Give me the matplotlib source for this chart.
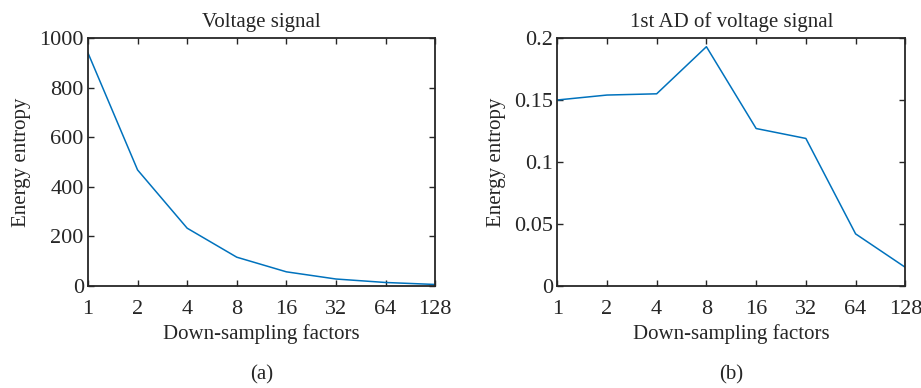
import matplotlib.pyplot as plt

plt.rcParams['font.family'] = ['Liberation Serif', 'DejaVu Serif']
plt.rcParams['font.size'] = 15

factors = ['1', '2', '4', '8', '16', '32', '64', '128']
voltage = [940, 468, 233, 116, 57, 28, 14, 6]
first_ad = [0.150, 0.154, 0.155, 0.193, 0.127, 0.119, 0.042, 0.015]

fig = plt.figure(figsize=(9.21, 3.88), dpi=100)
ax1 = fig.add_axes([0.0955, 0.263, 0.377, 0.639])
ax2 = fig.add_axes([0.605, 0.263, 0.378, 0.639])

x = list(range(len(factors)))

for ax, y, title, cap in [(ax1, voltage, 'Voltage signal', '(a)'),
                          (ax2, first_ad, '1st AD of voltage signal', '(b)')]:
    ax.plot(x, y, color='#0072BD', lw=1.1)
    ax.set_xlim(0, len(factors) - 1)
    ax.set_xticks(x)
    ax.set_xticklabels(factors)
    ax.set_title(title, fontsize=15, pad=8, color='#262626')
    ax.set_xlabel('Down-sampling factors', color='#262626', labelpad=4)
    ax.set_ylabel('Energy entropy', color='#262626', labelpad=6)
    ax.tick_params(direction='in', top=True, right=True, length=4,
                   width=1, colors='#262626', labelsize=16)
    ax.tick_params(axis='x', pad=10)
    ax.tick_params(axis='y', pad=3)
    for s in ax.spines.values():
        s.set_linewidth(1.3)
        s.set_color('#262626')
    pos = ax.get_position()
    fig.text(pos.x0 + pos.width / 2, 0.034, cap, ha='center', va='center',
             fontsize=15, color='#262626')

ax1.set_ylim(0, 1000)
ax1.set_yticks([0, 200, 400, 600, 800, 1000])
ax2.set_ylim(0, 0.2)
ax2.set_yticks([0, 0.05, 0.1, 0.15, 0.2])
ax2.set_yticklabels(['0', '0.05', '0.1', '0.15', '0.2'])

fig.savefig('out.png', dpi=100)
